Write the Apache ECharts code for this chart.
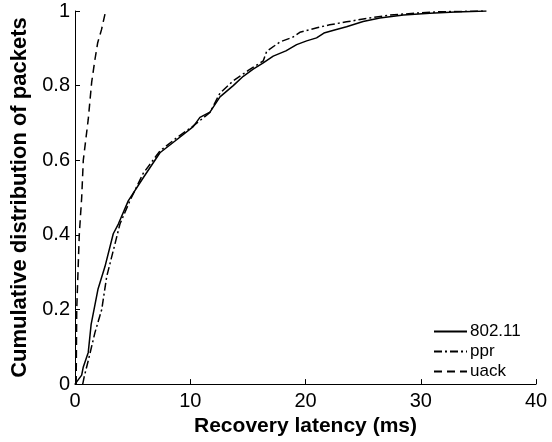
<!DOCTYPE html>
<html>
<head>
<meta charset="utf-8">
<script src="https://cdn.jsdelivr.net/npm/echarts@6/dist/echarts.min.js"></script>
<style>html,body{margin:0;padding:0;background:#fff;}#c{width:552px;height:442px;}</style>
</head>
<body>
<div id="c"></div>
<script>
var xTicks = [0, 10, 20, 30, 40];
var yTicks = [0, 0.2, 0.4, 0.6, 0.8, 1];
var seriesNames = ['802.11', 'ppr', 'uack'];
var dataWifi = [[0,0],[0.58,0.024],[0.72,0.046],[1.15,0.085],[1.4,0.16],[2.0,0.255],[2.6,0.315],[3.32,0.403],[3.76,0.429],[4.62,0.491],[5.92,0.553],[7.37,0.62],[8.82,0.655],[10.26,0.69],[10.84,0.715],[11.71,0.729],[12.58,0.77],[13.73,0.8],[14.6,0.825],[15.46,0.844],[16.3,0.86],[17.2,0.879],[18.3,0.893],[19.23,0.91],[20.1,0.92],[20.96,0.928],[21.6,0.941],[22.6,0.95],[23.56,0.958],[25.0,0.972],[26.45,0.981],[28.5,0.989],[30.79,0.994],[33.0,0.997],[35.7,1.0]];
var dataPpr = [[0.67,0],[0.8,0.02],[1.15,0.063],[1.73,0.138],[2.32,0.2],[2.75,0.288],[3.47,0.376],[3.9,0.429],[4.77,0.492],[5.92,0.565],[7.37,0.625],[8.82,0.66],[10.26,0.692],[11.71,0.728],[12.58,0.78],[13.73,0.813],[15.0,0.84],[16.33,0.866],[16.63,0.892],[17.78,0.917],[18.9,0.93],[19.51,0.943],[21.0,0.955],[22.1,0.963],[23.56,0.971],[25.5,0.981],[27.3,0.989],[29.5,0.994],[31.66,0.998],[35.6,1.0]];
var dataUack = [[0.1,0],[0.15,0.2],[0.37,0.4],[0.58,0.5],[0.72,0.6],[1.15,0.71],[1.45,0.81],[1.73,0.87],[1.97,0.915],[2.3,0.95],[2.66,1.0]];

var chart = echarts.init(document.getElementById('c'), null, {renderer: 'canvas'});
var font = 'Liberation Sans, Arial, Helvetica, sans-serif';
function mk(name, data, type) {
  return {name: name, type: 'line', data: data, symbol: 'none', smooth: false,
    lineStyle: {color: '#000', width: 1.5, type: type}, itemStyle: {color: '#000'}};
}
chart.setOption({
  animation: false,
  backgroundColor: '#fff',
  grid: {left: 75, right: 16, top: 11, bottom: 53},
  legend: {
    orient: 'vertical', left: 428, top: 318, itemGap: 3, itemWidth: 33, itemHeight: 16,
    data: seriesNames,
    itemStyle: {color: 'rgba(0,0,0,0)', borderWidth: 0, opacity: 0},
    textStyle: {fontFamily: font, fontSize: 17, color: '#000', padding: [0,0,0,-2]}
  },
  xAxis: {
    type: 'value', min: xTicks[0], max: xTicks[xTicks.length-1], interval: 10,
    name: 'Recovery latency (ms)', nameLocation: 'middle', nameGap: 27,
    nameTextStyle: {fontFamily: font, fontSize: 21, fontWeight: 'bold', color: '#000'},
    axisLine: {lineStyle: {color: '#000', width: 1}},
    axisTick: {inside: true, length: 5, lineStyle: {color: '#000'}},
    axisLabel: {fontFamily: font, fontSize: 20, color: '#000', margin: 7},
    splitLine: {show: false}
  },
  yAxis: {
    type: 'value', min: yTicks[0], max: yTicks[yTicks.length-1], interval: 0.2,
    name: 'Cumulative distribution of packets', nameLocation: 'middle', nameGap: 31,
    nameTextStyle: {fontFamily: font, fontSize: 22, fontWeight: 'bold', color: '#000'},
    axisLine: {show: true, lineStyle: {color: '#000', width: 1}},
    axisTick: {show: true, inside: true, length: 5, lineStyle: {color: '#000'}},
    axisLabel: {fontFamily: font, fontSize: 20, color: '#000', margin: 5,
      formatter: function(v){ return String(Math.round(v*10)/10); }},
    splitLine: {show: false}
  },
  series: [
    mk(seriesNames[0], dataWifi, 'solid'),
    mk(seriesNames[1], dataPpr, [8,3,2,3]),
    mk(seriesNames[2], dataUack, [8,5])
  ]
});
</script>
</body>
</html>
